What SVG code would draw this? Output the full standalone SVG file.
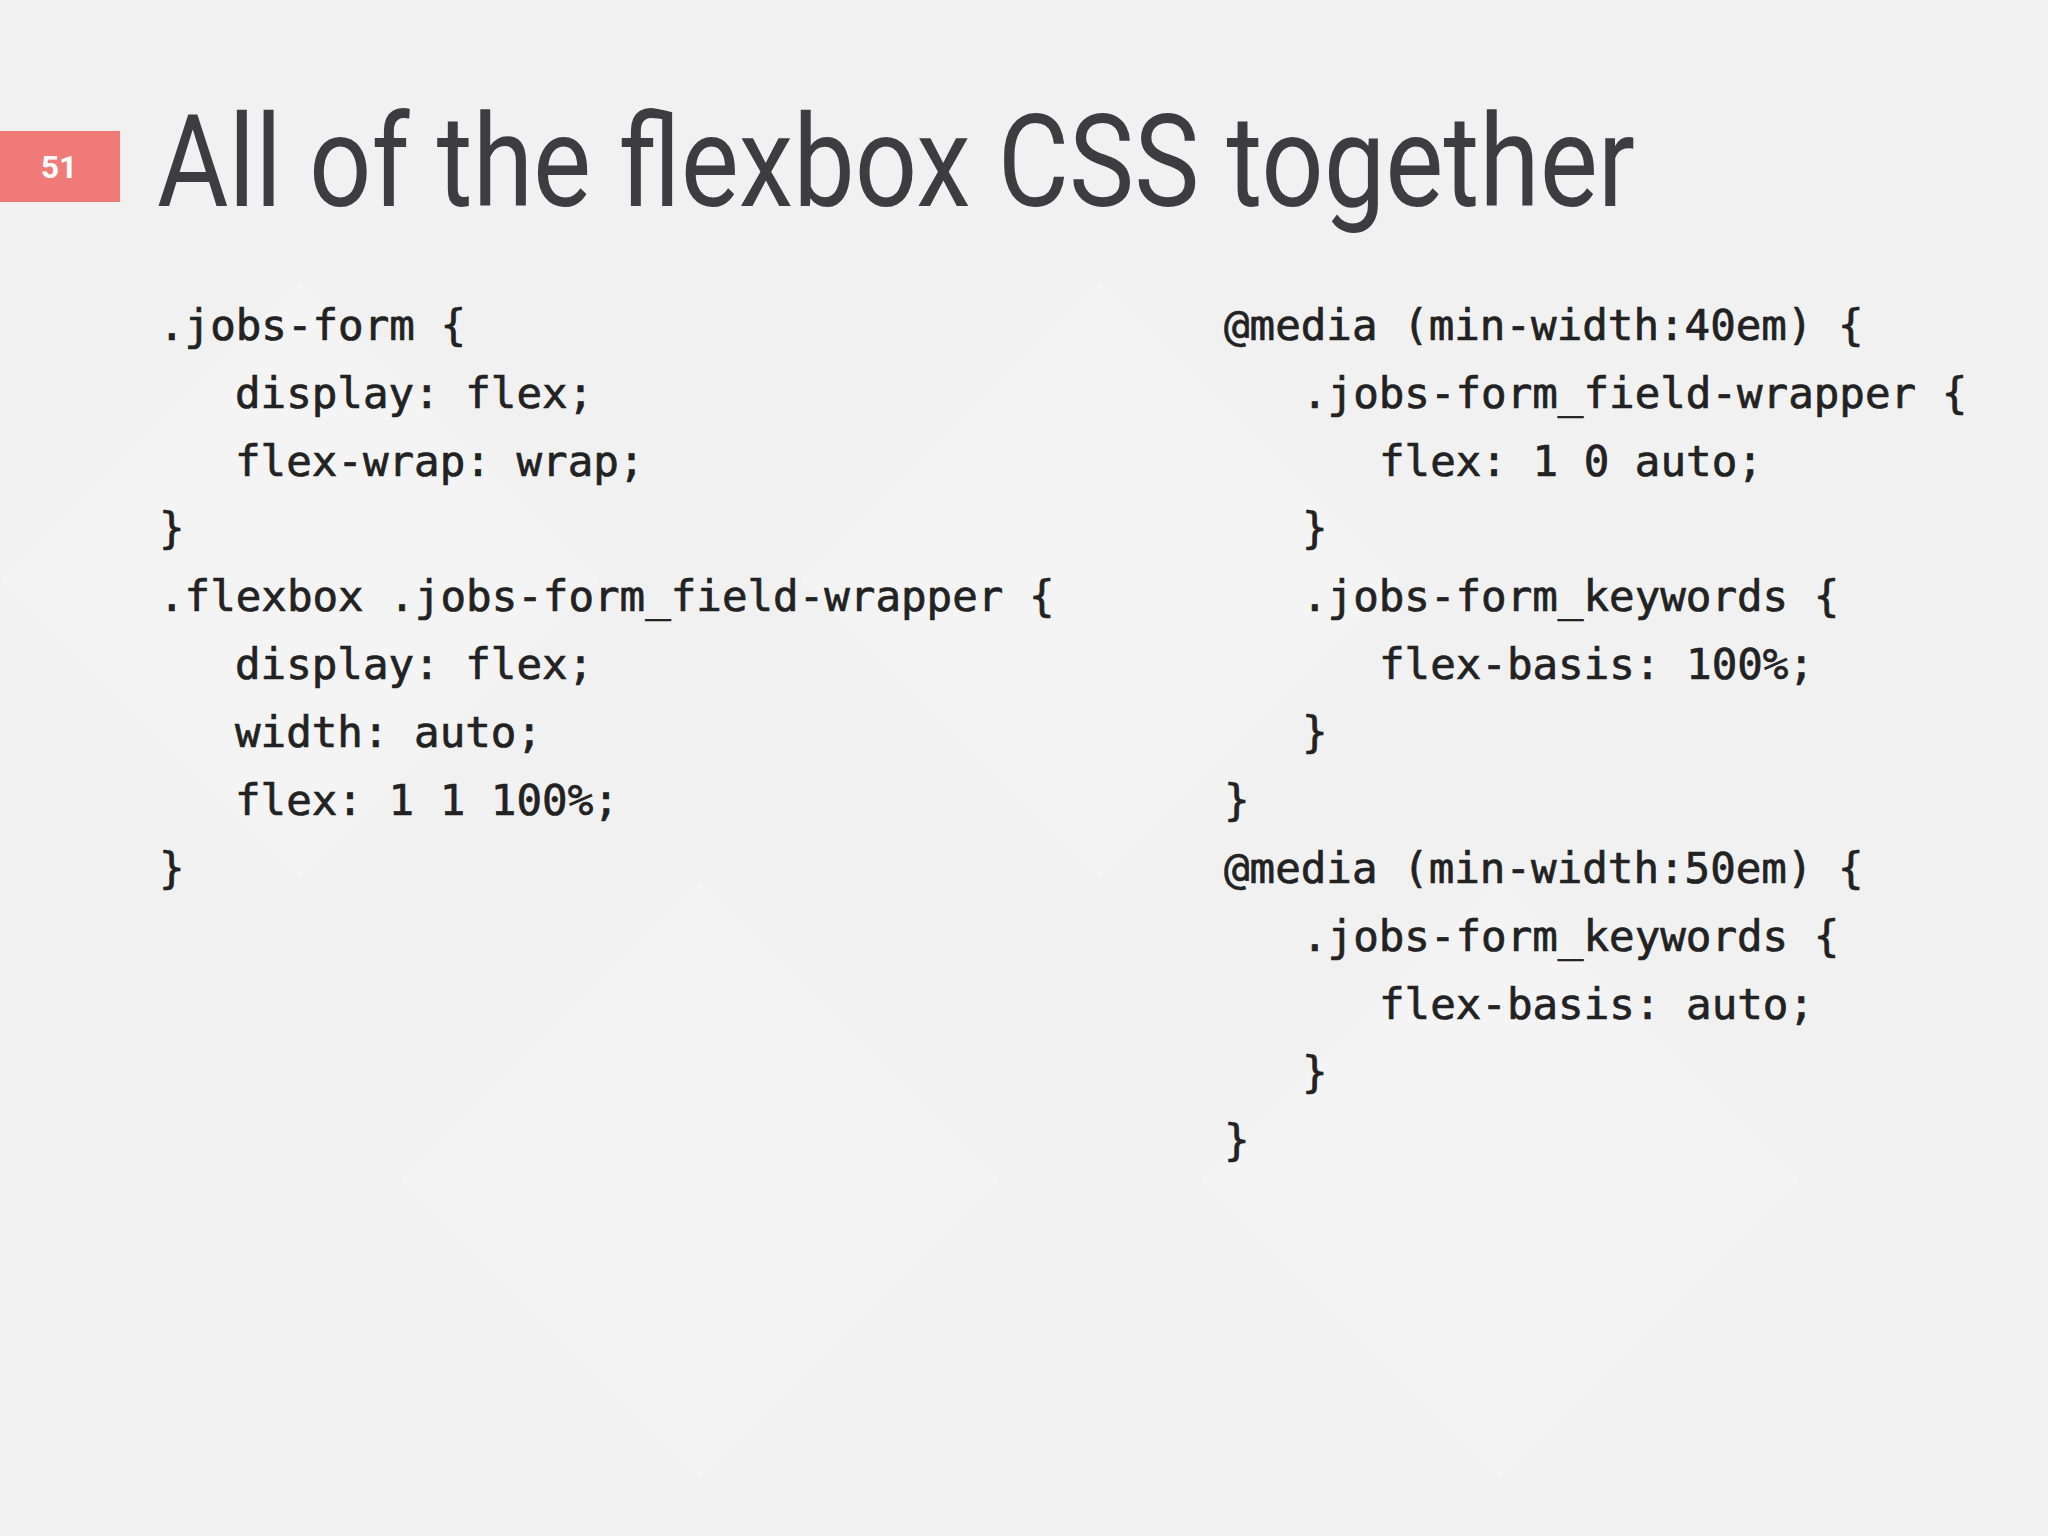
<svg xmlns="http://www.w3.org/2000/svg" width="2048" height="1536" viewBox="0 0 2048 1536">
<style>
.c{font-family:"DejaVu Sans Mono","Liberation Mono",monospace;font-size:42.5px;fill:#222;stroke:#222;stroke-width:0.7px}
</style>
<rect width="2048" height="1536" fill="#f1f1f2"/>
<g opacity="0.35" fill="#fafafb">
<polygon points="300,280 600,580 300,880 0,580"/>
<polygon points="1100,280 1400,580 1100,880 800,580"/>
<polygon points="700,880 1000,1180 700,1480 400,1180"/>
<polygon points="1500,880 1800,1180 1500,1480 1200,1180"/>
</g>
<g id="badge">
<rect x="0" y="131" width="120" height="71" fill="#f07a78"/>
<text x="59" y="178" text-anchor="middle" font-family="Roboto,sans-serif" font-size="32" font-weight="bold" fill="#fff">51</text>
</g>
<text id="title" x="157" y="206" font-family="Roboto,sans-serif" font-size="128" fill="#3d3d40" textLength="1478" lengthAdjust="spacingAndGlyphs">All of the flexbox CSS together</text>
<g id="left">
<text class="c" x="159" y="340">.jobs-form {</text>
<text class="c" x="235" y="408">display: flex;</text>
<text class="c" x="235" y="476">flex-wrap: wrap;</text>
<text class="c" x="159" y="543">}</text>
<text class="c" x="159" y="611">.flexbox .jobs-form_field-wrapper {</text>
<text class="c" x="235" y="679">display: flex;</text>
<text class="c" x="235" y="747">width: auto;</text>
<text class="c" x="235" y="815">flex: 1 1 100%;</text>
<text class="c" x="159" y="883">}</text>
</g>
<g id="right">
<text class="c" x="1224" y="340">@media (min-width:40em) {</text>
<text class="c" x="1302" y="408">.jobs-form_field-wrapper {</text>
<text class="c" x="1379" y="476">flex: 1 0 auto;</text>
<text class="c" x="1302" y="543">}</text>
<text class="c" x="1302" y="611">.jobs-form_keywords {</text>
<text class="c" x="1379" y="679">flex-basis: 100%;</text>
<text class="c" x="1302" y="747">}</text>
<text class="c" x="1224" y="815">}</text>
<text class="c" x="1224" y="883">@media (min-width:50em) {</text>
<text class="c" x="1302" y="951">.jobs-form_keywords {</text>
<text class="c" x="1379" y="1019">flex-basis: auto;</text>
<text class="c" x="1302" y="1087">}</text>
<text class="c" x="1224" y="1155">}</text>
</g>
</svg>
